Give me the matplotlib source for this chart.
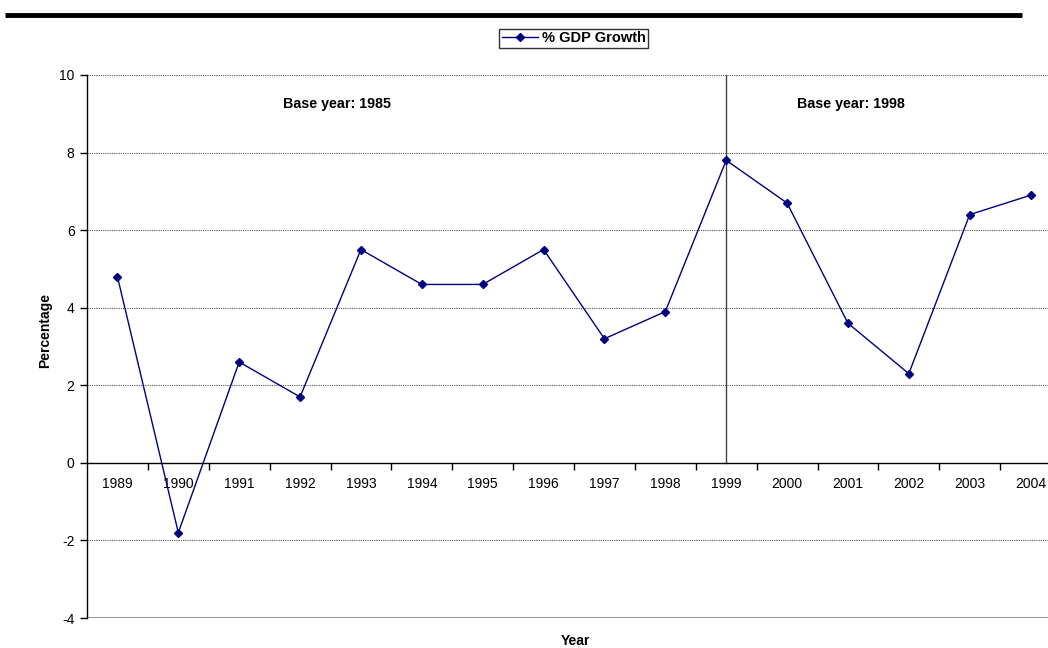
import matplotlib
matplotlib.use("Agg")
import matplotlib.pyplot as plt
from matplotlib.lines import Line2D
from matplotlib.font_manager import FontProperties

plt.rcParams['font.family'] = ['Liberation Sans', 'DejaVu Sans']
plt.rcParams['axes.unicode_minus'] = False

years = ['1989', '1990', '1991', '1992', '1993', '1994', '1995', '1996',
         '1997', '1998', '1999', '2000', '2001', '2002', '2003', '2004']
gdp_growth = [4.8, -1.8, 2.6, 1.7, 5.5, 4.6, 4.6, 5.5,
              3.2, 3.9, 7.8, 6.7, 3.6, 2.3, 6.4, 6.9]
y_ticks = [-4, -2, 0, 2, 4, 6, 8, 10]
break_year = '1999'
base_labels = ['Base year: 1985', 'Base year: 1998']

W, H = 1048, 648
fig = plt.figure(figsize=(W / 100, H / 100), dpi=100)

# plot area (extends slightly past the right edge of the page)
left, right, top, bottom = 87, 1061, 75, 618
ax = fig.add_axes([left / W, (H - bottom) / H, (right - left) / W, (bottom - top) / H])

x = list(range(len(years)))
navy = '#000080'
ax.plot(x, gdp_growth, color=navy, lw=1.0, marker='D', markersize=4.5,
        markerfacecolor=navy, markeredgecolor=navy, zorder=5)

ax.set_xlim(-0.5, len(years) - 0.5)
ax.set_ylim(y_ticks[0], y_ticks[-1])

# horizontal gridlines
for v in y_ticks:
    if v == 0:
        continue
    if v == y_ticks[0]:
        ax.axhline(v, color='#808080', lw=1.2, zorder=1)
    else:
        ax.axhline(v, color='#555555', lw=0.8, ls=(0, (1, 1)), zorder=1)

# divider between the two base-year series
bx = years.index(break_year)
ax.plot([bx, bx], [0, y_ticks[-1]], color='#444444', lw=1.0, zorder=2)

for sp in ['top', 'right']:
    ax.spines[sp].set_visible(False)
ax.spines['left'].set_color('black')
ax.spines['left'].set_linewidth(1.0)
ax.spines['bottom'].set_position(('data', 0))
ax.spines['bottom'].set_color('black')
ax.spines['bottom'].set_linewidth(1.0)

ax.set_yticks(y_ticks)
ax.tick_params(axis='y', direction='out', length=5, width=1, labelsize=10, pad=4)

ax.set_xticks(x)
ax.set_xticklabels(years)
ax.set_xticks([i + 0.5 for i in x[:-1]], minor=True)
ax.tick_params(axis='x', which='major', length=0, labelsize=10, pad=10)
ax.tick_params(axis='x', which='minor', direction='out', length=5, width=1)

ax.text(3.6, 9.25, base_labels[0], fontsize=10.3, fontweight='bold',
        ha='center', va='center')
ax.text(12.05, 9.25, base_labels[1], fontsize=10.3, fontweight='bold',
        ha='center', va='center')

fig.text(45 / W, 1 - 330 / H, 'Percentage', rotation=90, fontsize=10,
         fontweight='bold', ha='center', va='center')
fig.text(575 / W, 1 - 641 / H, 'Year', fontsize=10, fontweight='bold',
         ha='center', va='center')

# legend
handle = Line2D([], [], color=navy, lw=1.0, marker='D', markersize=4,
                markerfacecolor=navy, markeredgecolor=navy)
legend_font = FontProperties(family='Liberation Sans', weight='bold', size=10.5)
leg = fig.legend([handle], ['% GDP Growth'], loc='center',
                 bbox_to_anchor=(573.5 / W, 1 - 38.5 / H),
                 prop=legend_font, frameon=True,
                 fancybox=False, edgecolor='black', handlelength=2.5,
                 handletextpad=0.25, borderpad=0.2, borderaxespad=0)
leg.get_frame().set_linewidth(1.0)

# heavy rule across the top of the page
fig.add_artist(Line2D([5 / W, 1022 / W], [1 - 15 / H, 1 - 15 / H],
                      color='black', lw=3.5, solid_capstyle='butt'))

fig.savefig('out.png', dpi=100)
